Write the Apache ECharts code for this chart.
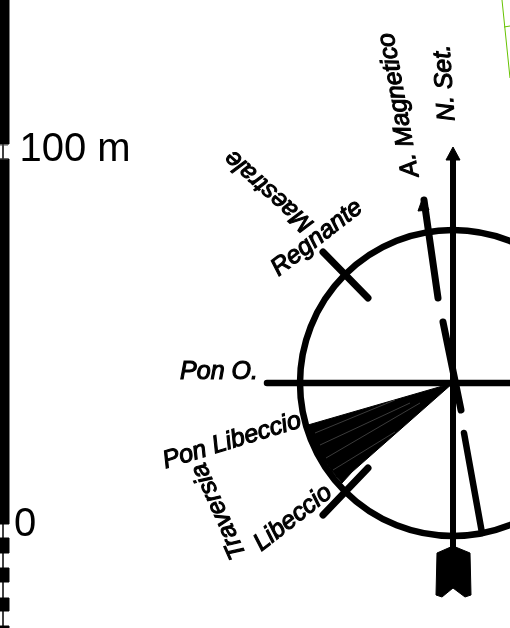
<!DOCTYPE html>
<html><head><meta charset="utf-8">
<style>html,body{margin:0;padding:0;background:#fff}#c{width:510px;height:628px}</style>
<script src="https://cdn.jsdelivr.net/npm/echarts@6/dist/echarts.min.js"></script>
</head><body><div id="c"></div>
<script>
var center = [453, 383];
var ringDiameter = 306;
var westLine = [[267,383],[510,383]];
var northLine = [[453,155],[453,548]];
var magA = [[424,200],[438,298]];
var magB = [[443,322],[461,410]];
var magC = [[464,433],[482,533]];
var regnanteTick = [[323,252],[368,298]];
var libeccioTick = [[323,515],[368,468]];
var scaleThinA = [[3,144],[3,159]];
var scaleThinB = [[3,524],[3,628]];
var scaleCapA = [[0,145],[8,145]];
var scaleCapB = [[0,159],[8,159]];
var greenA = [[502,0],[510,78]];
var greenB = [[504,27],[510,26]];
var hairlines = [
  [[315,433],[395,400]], [[320,445],[410,403]], [[326,458],[420,403]], [[333,470],[395,432]]
];
var wedge = [[453,383],[308,425],[313,441],[321,456],[331,470],[342,483],[352,472]];
var northHead = [[453,147],[460,160],[446,160]];
var magHead = [[423,197],[429,210],[418,211]];
var fletching = [[453,546],[470,553],[471,595],[465,597],[453,588],[442,597],[436,595],[437,553]];
var scaleBlocks = [
  [[0,0],[9,0],[9,144],[0,144]],
  [[0,159],[9,159],[9,524],[0,524]],
  [[0,538],[9,538],[9,553],[0,553]],
  [[0,568],[9,568],[9,582],[0,582]],
  [[0,598],[9,598],[9,611],[0,611]],
  [[0,626],[9,626],[9,628],[0,628]]
];
var polygons = [wedge, northHead, magHead, fletching].concat(scaleBlocks);
var labelTexts = ['Pon O.','Pon Libeccio','Traversia','Libeccio','Regnante','Maestrale','A. Magnetico','N. Set.'];
var labelPoints = [[219,372],[232,441],[219,511],[293,518],[317,238],[269,191],[399,105],[445,83]];
var labelAngles = [0,17,114,38,38,138,100,94];
var scaleTexts = ['100 m','0'];
var scalePoints = [[75,150],[25,525]];

function seg(pts, w, color, cap) {
  return {type:'line', data:pts, symbol:'none', silent:true, clip:false,
    lineStyle:{width:w, color:color||'#000', cap:cap||'round', opacity:1}};
}
var series = [
  {type:'custom', clip:false, silent:true, data:polygons.map(function(_,i){return [i];}),
   renderItem:function(p,api){
     return {type:'polygon', shape:{points:polygons[api.value(0)].map(function(q){return api.coord(q);})},
             style:{fill:'#000', stroke:'#000', lineWidth:1, lineJoin:'round'}};
   }},
  {type:'scatter', silent:true, data:[center], symbol:'circle', symbolSize:ringDiameter,
   itemStyle:{color:'rgba(0,0,0,0)', borderColor:'#000', borderWidth:6.5, opacity:1}},
  seg(westLine,6.5), seg(northLine,6,null,'butt'), seg(magA,7), seg(magB,7), seg(magC,6.5),
  seg(regnanteTick,7), seg(libeccioTick,7),
  seg(scaleThinA,1.5,null,'butt'), seg(scaleThinB,1.5,null,'butt'),
  seg(scaleCapA,1,'#444','butt'), seg(scaleCapB,1,'#444','butt'),
  seg(greenA,1,'#66c200','butt'), seg(greenB,1,'#66c200','butt')
].concat(hairlines.map(function(h){return seg(h,0.5,'#777','butt');}));
series.push({type:'scatter', silent:true, symbolSize:0, itemStyle:{opacity:1},
  data:labelPoints.map(function(p,i){
    return {value:p, label:{show:true, position:'inside', formatter:labelTexts[i], rotate:labelAngles[i],
      align:'center', verticalAlign:'middle', opacity:1,
      fontFamily:'Liberation Sans', fontStyle:'italic', fontSize:25, color:'#000',
      textBorderColor:'#000', textBorderWidth:1.1}};
  })});
series.push({type:'scatter', silent:true, symbolSize:0, itemStyle:{opacity:1},
  data:scalePoints.map(function(p,i){
    return {value:p, label:{show:true, position:'inside', formatter:scaleTexts[i],
      align:'center', verticalAlign:'middle', opacity:1,
      fontFamily:'Liberation Sans', fontSize:40, color:'#000'}};
  })});
var chart = echarts.init(document.getElementById('c'), null, {renderer:'canvas'});
chart.setOption({
  animation:false, backgroundColor:'#fff',
  grid:{left:0,right:0,top:0,bottom:0},
  xAxis:{type:'value',min:0,max:510,show:false},
  yAxis:{type:'value',min:0,max:628,inverse:true,show:false},
  tooltip:{show:false}, legend:{show:false},
  series:series
});
</script></body></html>
